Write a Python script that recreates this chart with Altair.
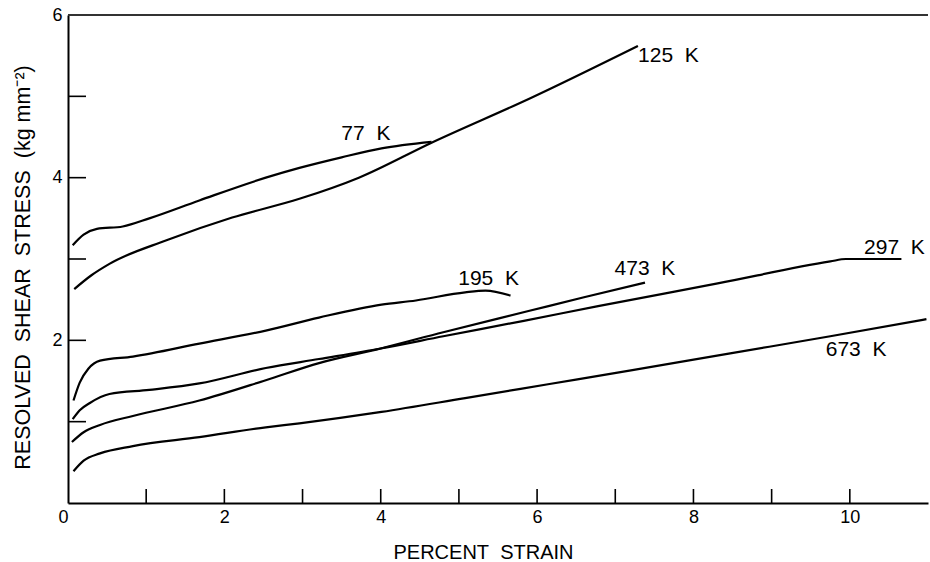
import altair as alt
import pandas as pd

# ---- data ----
series_names = ["77 K", "125 K", "195 K", "297 K", "473 K", "673 K"]

x_77 = [0.06, 0.2, 0.37, 0.7, 1.04, 1.68, 2.53, 2.96, 3.5, 4.01, 4.65]
y_77 = [3.17, 3.30, 3.37, 3.40, 3.50, 3.72, 4.00, 4.12, 4.25, 4.36, 4.44]

x_125 = [0.08, 0.3, 0.53, 1.26, 2.1, 2.96, 3.72, 4.65, 5.92, 7.29]
y_125 = [2.63, 2.80, 2.94, 3.23, 3.51, 3.74, 4.00, 4.43, 4.98, 5.62]

x_195 = [0.07, 0.15, 0.26, 0.41, 0.83, 1.68, 2.53, 3.21, 4.01, 4.45, 5.08, 5.34, 5.66]
y_195 = [1.26, 1.48, 1.65, 1.75, 1.80, 1.96, 2.12, 2.28, 2.44, 2.49, 2.59, 2.61, 2.55]

x_297 = [0.06, 0.15, 0.28, 0.53, 1.04, 1.68, 2.53, 3.21, 4.0, 4.8, 5.83, 6.78, 8.31, 9.75, 9.95, 10.66]
y_297 = [1.03, 1.14, 1.23, 1.34, 1.39, 1.47, 1.66, 1.77, 1.90, 2.05, 2.24, 2.42, 2.70, 2.97, 3.00, 3.00]

x_473 = [0.05, 0.2, 0.41, 0.83, 1.68, 2.53, 3.21, 4.0, 4.8, 5.89, 6.6, 7.38]
y_473 = [0.75, 0.87, 0.96, 1.07, 1.26, 1.51, 1.72, 1.90, 2.10, 2.36, 2.53, 2.71]

x_673 = [0.07, 0.2, 0.41, 0.83, 1.68, 2.53, 2.96, 4.01, 5.08, 6.14, 7.2, 8.47, 9.75, 10.98]
y_673 = [0.39, 0.52, 0.61, 0.70, 0.81, 0.93, 0.98, 1.12, 1.29, 1.46, 1.63, 1.84, 2.05, 2.26]

label_text = ["77\u00a0\u00a0K", "125\u00a0\u00a0K", "195\u00a0\u00a0K",
              "297\u00a0\u00a0K", "473\u00a0\u00a0K", "673\u00a0\u00a0K"]
label_x = [3.81, 7.68, 5.38, 10.57, 7.38, 10.08]
label_y = [4.54, 5.50, 2.76, 3.13, 2.88, 1.88]

x_tick_values = [1, 2, 3, 4, 5, 6, 7, 8, 9, 10]
y_tick_values = [1, 2, 3, 4, 5]
x_label_values = [0, 2, 4, 6, 8, 10]
y_label_values = [2, 4, 6]

# ---- tables ----
curves = [x_77, x_125, x_195, x_297, x_473, x_673]
values = [y_77, y_125, y_195, y_297, y_473, y_673]
rows = []
for name, xs, ys in zip(series_names, curves, values):
    for i, (a, b) in enumerate(zip(xs, ys)):
        rows.append({"series": name, "strain": a, "stress": b, "order": i})
df = pd.DataFrame(rows)
labels_df = pd.DataFrame({"text": label_text, "strain": label_x, "stress": label_y})
xt_df = pd.DataFrame({"strain": x_tick_values})
yt_df = pd.DataFrame({"stress": y_tick_values})
frame_df = pd.DataFrame({"strain": [0], "strain_end": [11], "stress": [6]})

W, H = 860, 488
FONT = "Liberation Sans Narrow, Arial Narrow, Liberation Sans, Arial, sans-serif"
REG = "Liberation Sans, Arial, sans-serif"

xscale = alt.Scale(domain=[0, 11], nice=False, zero=False)
yscale = alt.Scale(domain=[0, 6], nice=False, zero=False)

x_axis = alt.Axis(
    values=x_label_values, ticks=False, grid=False,
    domainColor="black", domainWidth=2,
    labelFont=REG, labelFontSize=18, labelColor="black", labelPadding=5,
    labelAlign={"condition": {"test": "datum.value === 0", "value": "right"}, "value": "center"},
    title="PERCENT\u00a0\u00a0STRAIN", titleFont=FONT, titleFontSize=20,
    titleFontWeight="normal", titleColor="black",
    titleX=415, titleY=55, titleAlign="center", titleBaseline="alphabetic",
)
y_axis = alt.Axis(
    values=y_label_values, ticks=False, grid=False,
    domainColor="black", domainWidth=2,
    labelFont=REG, labelFontSize=18, labelColor="black", labelPadding=6,
    title="RESOLVED\u00a0\u00a0SHEAR\u00a0\u00a0STRESS\u00a0\u00a0(kg mm\u207b\u00b2)",
    titleFont=REG, titleFontSize=21.5, titleFontWeight="normal", titleColor="black",
    titleX=-39, titleY=252, titleAlign="center", titleBaseline="alphabetic",
)

X = alt.X("strain:Q", scale=xscale, axis=x_axis)
Y = alt.Y("stress:Q", scale=yscale, axis=y_axis)

lines = alt.Chart(df).mark_line(
    interpolate="monotone", color="black", strokeWidth=2.2, clip=True
).encode(x=X, y=Y, detail="series:N", order="order:Q")

texts = alt.Chart(labels_df).mark_text(
    font=FONT, fontSize=21, color="black", align="center", baseline="middle"
).encode(x=X, y=Y, text="text:N")

xticks = alt.Chart(xt_df).mark_rule(color="black", strokeWidth=1.6).encode(
    x=X, y=alt.value(H), y2=alt.value(H - 14),
)
yticks = alt.Chart(yt_df).mark_rule(color="black", strokeWidth=1.6).encode(
    y=Y, x=alt.value(0), x2=alt.value(18),
)
top_frame = alt.Chart(frame_df).mark_rule(color="#333333", strokeWidth=2).encode(
    x=X, x2="strain_end:Q", y=Y,
)

chart = alt.layer(lines, texts, xticks, yticks, top_frame).properties(
    width=W, height=H,
    autosize=alt.AutoSizeParams(type="none"),
    padding={"left": 68, "top": 15, "right": 2, "bottom": 59},
    background="white",
).configure_view(stroke=None)

chart.save("out.html", embed_options={"renderer": "svg", "actions": False})
